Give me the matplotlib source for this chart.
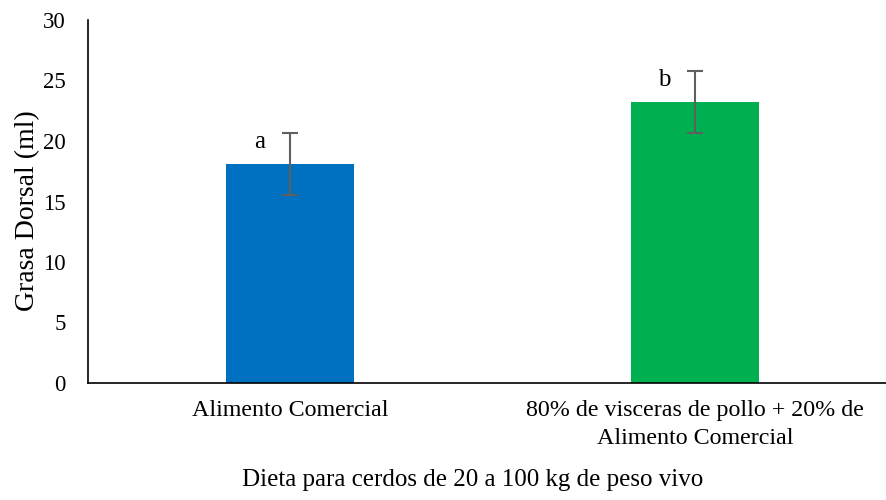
import matplotlib.pyplot as plt

plt.rcParams['font.family'] = ['Liberation Serif', 'DejaVu Serif']

# Datos
dietas = ['Alimento Comercial', '80% de visceras de pollo + 20% de\nAlimento Comercial']
grasa = [18.1, 23.2]
error = [2.55, 2.55]
letras = ['a', 'b']
colores = ['#0070C0', '#00B050']
y_ticks = [0, 5, 10, 15, 20, 25, 30]

fig = plt.figure(figsize=(8.87, 5.0), dpi=100)
ax = fig.add_axes([88 / 887, 117 / 500, 1 - 88 / 887, 363 / 500])

x = list(range(len(dietas)))
ax.bar(x, grasa, width=0.316, color=colores, zorder=2)
ax.errorbar(x, grasa, yerr=error, fmt='none', ecolor='#5f5f5f',
            elinewidth=1.5, capsize=6, capthick=1.5, zorder=3)

# Letras de significancia
for xi, v, l in zip(x, grasa, letras):
    ax.annotate(l, xy=(xi, v + 1.8), xytext=(-22, 0), textcoords='offset points',
                ha='center', va='center', fontsize=18)

ax.set_xlim(-0.5, 1.474)
ax.set_ylim(0, 30)
ax.set_yticks(y_ticks)
ax.set_xticks(x)
ax.set_xticklabels(dietas, fontsize=17.3, linespacing=1.45)
ax.tick_params(axis='y', length=0, pad=16, labelsize=16.5)
ax.tick_params(axis='x', length=0, pad=12)

for s in ['top', 'right']:
    ax.spines[s].set_visible(False)
ax.spines['left'].set_linewidth(1.2)
ax.spines['bottom'].set_linewidth(1.2)

ax.set_ylabel('Grasa Dorsal (ml)', fontsize=20, va='center')
ax.yaxis.set_label_coords(-0.075, 0.475)
ax.set_xlabel('Dieta para cerdos de 20 a 100 kg de peso vivo', fontsize=18, va='center')
ax.xaxis.set_label_coords(0.482, -0.267)

fig.savefig('out.png', dpi=100)
